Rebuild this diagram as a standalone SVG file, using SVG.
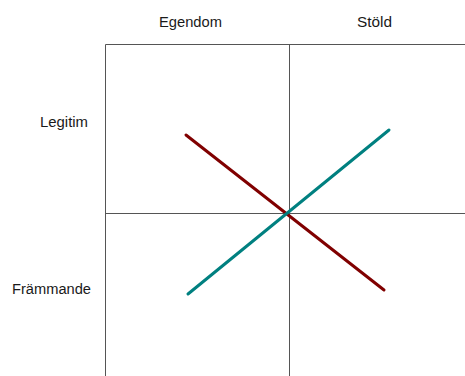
<svg xmlns="http://www.w3.org/2000/svg" width="465" height="376" viewBox="0 0 465 376">
<style>
.lbl{font-family:"Liberation Sans",Arial,sans-serif;font-size:14px;fill:#1a1a1a}
.grid{stroke:#555;stroke-width:1;fill:none}
.ln{stroke-width:3;stroke-linecap:round;fill:none}
</style>
<rect width="465" height="376" fill="#fff"/>
<g id="grid">
<path class="grid" d="M105.5 376V44.5H465M289.5 44.5V376M105.5 213.5H465"/>
</g>
<g id="labels">
<text class="lbl" x="159" y="27" textLength="63" lengthAdjust="spacingAndGlyphs">Egendom</text>
<text class="lbl" x="357" y="27" textLength="35" lengthAdjust="spacingAndGlyphs">Stöld</text>
<text class="lbl" x="40" y="127" textLength="48" lengthAdjust="spacingAndGlyphs">Legitim</text>
<text class="lbl" x="12" y="294" textLength="79" lengthAdjust="spacingAndGlyphs">Främmande</text>
</g>
<g id="connectors">
<line class="ln" x1="186" y1="135" x2="384" y2="290" stroke="#800000"/>
<line class="ln" x1="188" y1="294" x2="389" y2="130" stroke="#008080"/>
</g>
</svg>
